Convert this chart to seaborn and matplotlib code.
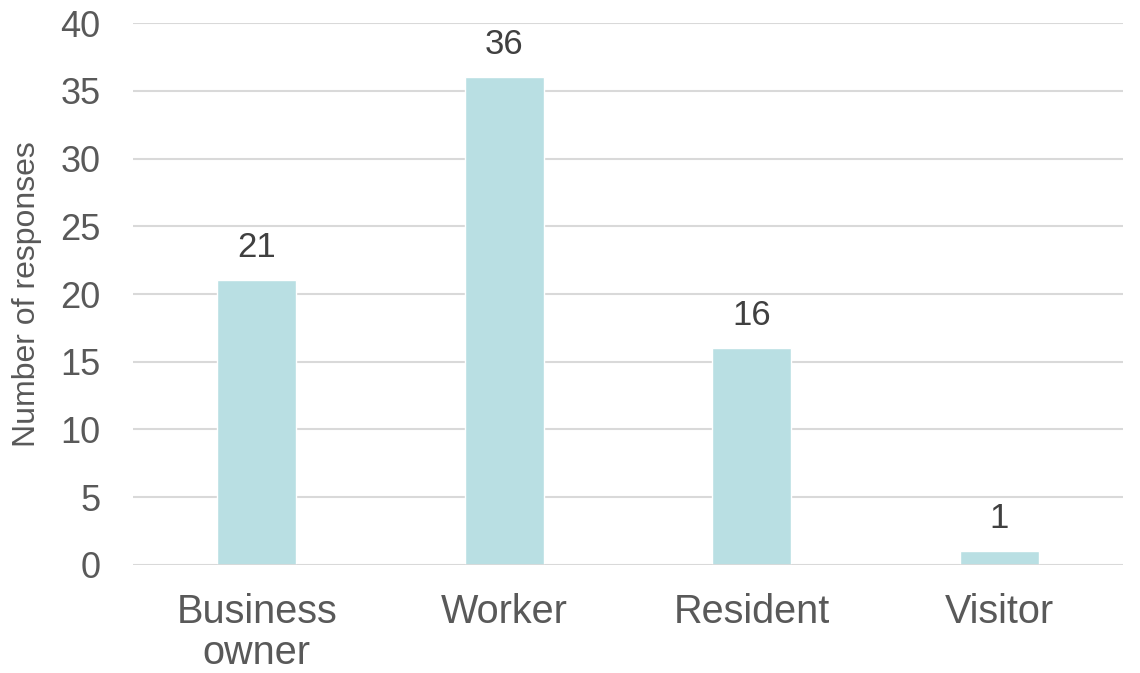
import matplotlib
matplotlib.use("Agg")
import matplotlib.pyplot as plt
import seaborn as sns
import pandas as pd

categories = ["Business\nowner", "Worker", "Resident", "Visitor"]
responses = [21, 36, 16, 1]
y_ticks = [0, 5, 10, 15, 20, 25, 30, 35, 40]

sns.set_theme(style="white")
plt.rcParams["font.family"] = ["Liberation Sans", "DejaVu Sans"]

df = pd.DataFrame({"category": categories, "responses": responses})

fig = plt.figure(figsize=(11.4, 6.73), dpi=100)
ax = fig.add_axes([0.1167, 0.1605, 0.8683, 0.8053])

sns.barplot(data=df, x="category", y="responses", color="#B9DFE3",
            saturation=1, width=0.32, ax=ax, zorder=3)

ax.set_ylim(0, 40)
ax.set_xlim(-0.5, len(categories) - 0.5)
ax.set_yticks(y_ticks)
ax.yaxis.grid(True, color="#D9D9D9", linewidth=1.5, zorder=0)
ax.set_axisbelow(True)
for s in ax.spines.values():
    s.set_visible(False)
ax.axhline(0, color="#D9D9D9", linewidth=2, zorder=4)

ax.tick_params(axis="y", labelsize=26, labelcolor="#595959", length=0, pad=23.5)
ax.tick_params(axis="x", labelsize=28.5, labelcolor="#595959", length=0, pad=20)
for lbl in ax.get_xticklabels():
    lbl.set_linespacing(1.1)

ax.set_xlabel("")
ax.set_ylabel("Number of responses", fontsize=23, color="#595959", labelpad=13)

for i, v in enumerate(responses):
    ax.annotate(str(v), (i, v), xytext=(0, 12), textcoords="offset points",
                ha="center", va="bottom", fontsize=25, color="#404040")

fig.savefig("out.png", dpi=100)
